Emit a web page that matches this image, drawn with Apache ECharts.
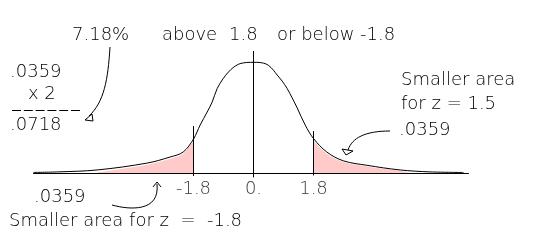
<!DOCTYPE html>
<html><head><meta charset="utf-8">
<script src="https://cdn.jsdelivr.net/npm/echarts@6/dist/echarts.min.js"></script>
<style>html,body{margin:0;padding:0;background:#fff}#c{width:560px;height:246px}</style>
</head><body><div id="c"></div>
<script>
// Curve (z, height)
const curveX = [-6.6, -5.86, -4.69, -3.19, -2.5, -2.11, -1.8, -1.6, -1.39, -1.24, -1.09, -0.91, -0.75, -0.61, -0.45, -0.3, -0.1, 0.1, 0.3, 0.45, 0.6, 0.71, 0.86, 1.01, 1.16, 1.31, 1.55, 1.8, 2.2, 2.7, 3.4, 4.4, 5.3, 6.3];
const curveY = [0.002, 0.004, 0.011, 0.036, 0.058, 0.076, 0.123, 0.174, 0.221, 0.257, 0.306, 0.342, 0.366, 0.382, 0.394, 0.399, 0.401, 0.401, 0.398, 0.390, 0.372, 0.355, 0.333, 0.306, 0.272, 0.236, 0.174, 0.125, 0.076, 0.044, 0.028, 0.011, 0.004, 0.002];
// Shaded tails
const leftTailX = [-4.69, -3.19, -2.5, -2.11, -1.8];
const leftTailY = [0.002, 0.030, 0.052, 0.070, 0.118];
const rightTailX = [1.8, 2.2, 2.7, 3.4, 4.4, 4.7];
const rightTailY = [0.118, 0.070, 0.040, 0.024, 0.008, 0.002];
// Vertical markers
const markerZ = [-1.8, 0, 1.8];
const markerTop = [0.170, 0.442, 0.152];
const markerBottom = [-0.011, -0.016, -0.009];
const tickLabels = ['-1.8', '0.', '1.8'];

const FONT = '"DejaVu Sans"';
const FW = 200;
const FS = 18;
const zip = (a, b) => a.map((v, i) => [v, b[i]]);

const series = [];
series.push({type:'line', data: zip(leftTailX, leftTailY), smooth:0.3, symbol:'none', lineStyle:{width:0}, areaStyle:{color:'#ffcaca', opacity:1}, silent:true, z:1});
series.push({type:'line', data: zip(rightTailX, rightTailY), smooth:0.3, symbol:'none', lineStyle:{width:0}, areaStyle:{color:'#ffcaca', opacity:1}, silent:true, z:1});
series.push({type:'line', data: zip(curveX, curveY), smooth:0.35, symbol:'none', lineStyle:{color:'#000', width:1}, silent:true, z:3});
markerZ.forEach((z, i) => {
  series.push({type:'line', data:[[z, markerBottom[i]], [z, markerTop[i]]], symbol:'none', clip:false, lineStyle:{color:'#000', width:1}, silent:true, z:4});
});
series.push({type:'scatter', data: markerZ.map(z => [z, 0]), symbolSize:0, clip:false, silent:true,
  label:{show:true, position:'bottom', distance:7, color:'#000', fontFamily:FONT, fontWeight:FW, fontSize:FS,
    formatter: p => tickLabels[p.dataIndex]}});

const txt = (x, y, s) => ({type:'text', x:x, y:y, style:{text:s, fill:'#000', fontFamily:FONT, fontWeight:FW, fontSize:FS, verticalAlign:'middle', align:'left'}});

const chart = echarts.init(document.getElementById('c'), null, {renderer:'canvas'});
chart.setOption({
  animation:false,
  grid:{left:33.5, right:91.5, top:35, bottom:73},
  xAxis:{type:'value', min:-6.6, max:6.45, axisLine:{show:true, onZero:false, lineStyle:{color:'#000', width:1}}, axisTick:{show:false}, axisLabel:{show:false}, splitLine:{show:false}},
  yAxis:{type:'value', min:0, max:0.5, show:false, splitLine:{show:false}},
  series: series,
  graphic:[
    txt(72, 35, '7.18%'),
    txt(162, 35, 'above'),
    txt(229, 35, '1.8'),
    txt(277, 35, 'or below -1.8'),
    txt(10, 72, '.0359'),
    txt(28, 94, 'x 2'),
    {type:'line', shape:{x1:12, y1:110.5, x2:80, y2:110.5}, style:{stroke:'#000', lineWidth:1, lineDash:[9,2.8]}},
    txt(10, 125, '.0718'),
    txt(401, 80, 'Smaller area'),
    txt(401, 104, 'for z = 1.5'),
    txt(399, 130, '.0359'),
    txt(34, 197, '.0359'),
    txt(9, 221, 'Smaller area for z  =  -1.8'),
    // arrows
    {type:'bezierCurve', shape:{x1:110, y1:47, cpx1:108, cpy1:80, cpx2:104, cpy2:102, x2:89, y2:116}, style:{stroke:'#000', fill:null, lineWidth:1}},
    {type:'polygon', shape:{points:[[85,120],[92,114],[93,121]]}, style:{stroke:'#000', fill:'#fff', lineWidth:1}},
    {type:'bezierCurve', shape:{x1:390, y1:131, cpx1:365, cpy1:131, cpx2:352, cpy2:138, x2:348, y2:150}, style:{stroke:'#000', fill:null, lineWidth:1}},
    {type:'polygon', shape:{points:[[346,155],[342,149],[353,151]]}, style:{stroke:'#000', fill:'#fff', lineWidth:1}},
    {type:'bezierCurve', shape:{x1:112, y1:205, cpx1:130, cpy1:210, cpx2:160, cpy2:212, x2:157, y2:184}, style:{stroke:'#000', fill:null, lineWidth:1}},
    {type:'polyline', shape:{points:[[153,187],[157,182],[161,187]]}, style:{stroke:'#000', fill:null, lineWidth:1}}
  ]
});
</script></body></html>
